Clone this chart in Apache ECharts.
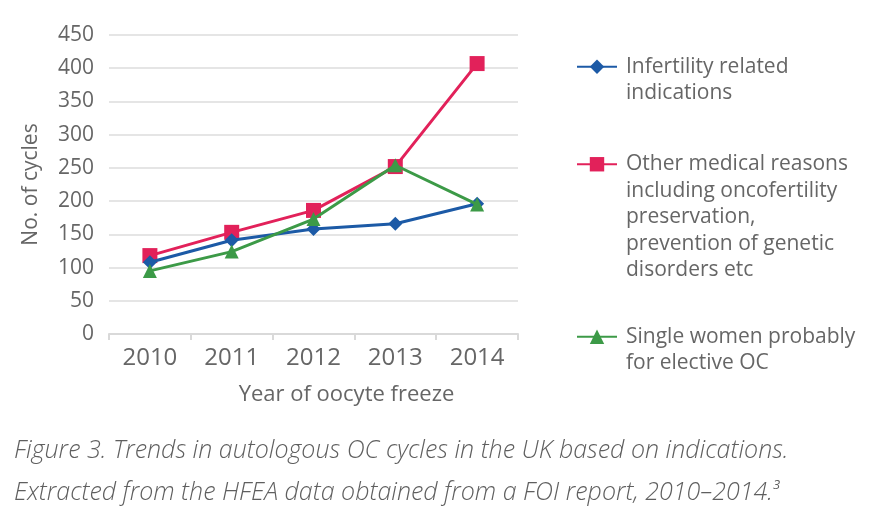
<!DOCTYPE html>
<html>
<head>
<meta charset="utf-8">
<script src="https://cdn.jsdelivr.net/npm/echarts@6/dist/echarts.min.js"></script>
<style>
html,body{margin:0;padding:0;background:#fff;}
#chart{width:895px;height:524px;}
</style>
</head>
<body>
<div id="chart"></div>
<script>
const years = ['2010', '2011', '2012', '2013', '2014'];
const infertility = [108, 141, 158, 166, 196];
const otherMedical = [118, 153, 186, 252, 407];
const singleWomen = [95, 124, 173, 254, 195];
const yTicks = { min: 0, max: 450, interval: 50 };
const seriesNames = [
  'Infertility related\nindications',
  'Other medical reasons\nincluding oncofertility\npreservation,\nprevention of genetic\ndisorders etc',
  'Single women probably\nfor elective OC'
];
const colors = ['#1c5aa6', '#e2215a', '#3c9a47'];
const captionLines = [
  'Figure 3. Trends in autologous OC cycles in the UK based on indications.',
  'Extracted from the HFEA data obtained from a FOI report, 2010–2014.'
];

const FONT = '"Open Sans", "Noto Sans", sans-serif';
const TXT = '#666666';
const LH = 26.5;

function legendFor(i, top) {
  return {
    data: [seriesNames[i]],
    left: 571,
    top: top,
    orient: 'vertical',
    itemWidth: 40,
    itemHeight: 18,
    itemGap: 10,
    formatter: function (name) {
      const n = name.split('\n').length;
      return ' \n'.repeat(n - 1) + name;
    },
    textStyle: {
      color: TXT, fontFamily: FONT, fontSize: 21, lineHeight: LH,
      padding: [0, 0, 0, 4]
    }
  };
}

const chart = echarts.init(document.getElementById('chart'), null, { renderer: 'canvas' });
chart.setOption({
  animation: false,
  color: colors,
  grid: { left: 109, right: 377, top: 35, bottom: 190, containLabel: false },
  legend: [legendFor(0, 22), legendFor(1, 40), legendFor(2, 292)],
  xAxis: {
    type: 'category',
    data: years,
    boundaryGap: true,
    name: 'Year of oocyte freeze',
    nameLocation: 'middle',
    nameGap: 50,
    nameTextStyle: { color: TXT, fontFamily: FONT, fontSize: 22, padding: [0, 0, 0, 66] },
    axisLine: { lineStyle: { color: '#d9d9d9', width: 2 } },
    axisTick: { show: true, length: 6, lineStyle: { color: '#d9d9d9', width: 2 } },
    axisLabel: { color: TXT, fontFamily: FONT, fontSize: 24, margin: 12 }
  },
  yAxis: {
    type: 'value',
    min: yTicks.min, max: yTicks.max, interval: yTicks.interval,
    name: 'No. of cycles',
    nameLocation: 'middle',
    nameGap: 67,
    nameTextStyle: { color: TXT, fontFamily: FONT, fontSize: 21 },
    axisLine: { show: false },
    axisTick: { show: false },
    splitLine: { lineStyle: { color: '#dcdcdc', width: 1.5 } },
    axisLabel: { color: TXT, fontFamily: FONT, fontSize: 21, margin: 15 }
  },
  series: [
    { name: seriesNames[0], type: 'line', data: infertility, symbol: 'diamond', symbolSize: 14,
      lineStyle: { width: 3 }, itemStyle: { color: colors[0] }, z: 3 },
    { name: seriesNames[1], type: 'line', data: otherMedical, symbol: 'rect', symbolSize: 15,
      lineStyle: { width: 3 }, itemStyle: { color: colors[1] }, z: 2 },
    { name: seriesNames[2], type: 'line', data: singleWomen, symbol: 'triangle', symbolSize: 14,
      lineStyle: { width: 3 }, itemStyle: { color: colors[2] }, z: 4 }
  ],
  graphic: [
    { type: 'text', left: 14, top: 438,
      style: { text: captionLines[0], fill: '#5f5f5f', font: 'italic 300 25px ' + FONT } },
    { type: 'text', left: 14, top: 479,
      style: { text: captionLines[1] + '{sup|3}', fill: '#5f5f5f', font: 'italic 300 25px ' + FONT,
        rich: { sup: { fontSize: 13, verticalAlign: 'top', fill: '#5f5f5f', fontStyle: 'italic', fontFamily: FONT, padding: [0,0,14,0] } } } }
  ]
});
</script>
</body>
</html>
